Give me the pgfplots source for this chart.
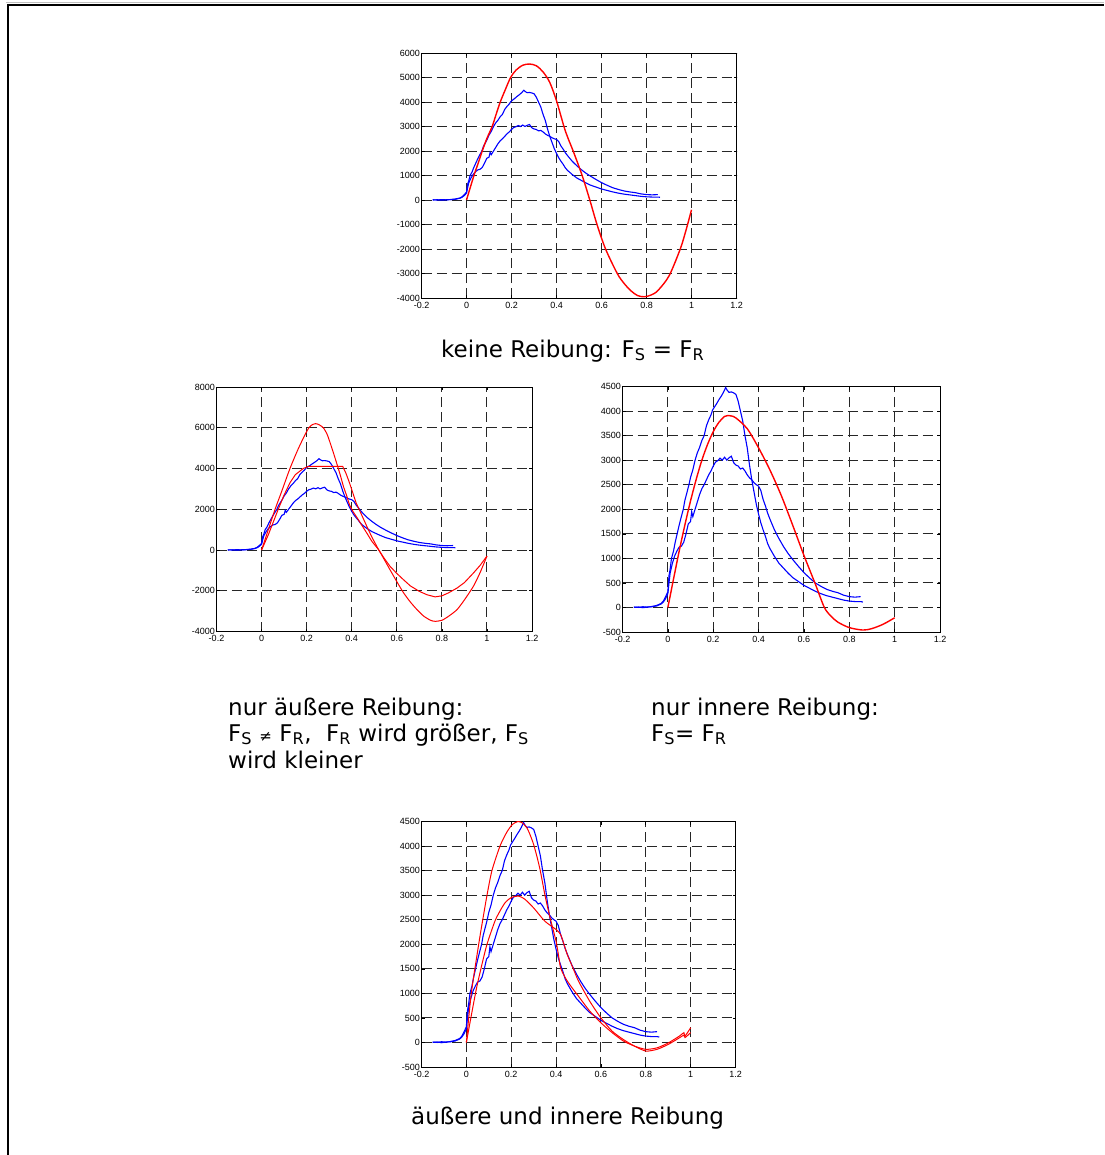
\documentclass[border=0pt]{standalone}
\usepackage{fontspec}
\setmainfont{DejaVu Sans}
\newfontfamily\tickfont{Liberation Sans}
\usepackage{pgfplots}
\pgfplotsset{compat=1.18}
\usepackage{pgfplotstable}

% measured curves (the same in all four panels)
\pgfplotstableread{
x y
-0.150 10
-0.130 0
-0.110 15
-0.090 5
-0.070 20
-0.050 40
-0.040 60
-0.030 80
-0.020 130
-0.010 220
0.000 320
0.005 650
0.010 780
0.016 1000
0.025 1150
0.032 1320
0.041 1500
0.050 1680
0.060 1860
0.068 2000
0.075 2180
0.083 2320
0.093 2500
0.100 2650
0.110 2800
0.120 3000
0.130 3150
0.140 3260
0.150 3400
0.160 3500
0.170 3700
0.180 3820
0.190 3920
0.197 4020
0.205 4080
0.215 4150
0.225 4230
0.235 4300
0.245 4380
0.255 4480
0.262 4420
0.270 4380
0.280 4390
0.290 4370
0.300 4340
0.310 4200
0.320 4000
0.330 3800
0.340 3500
0.350 3250
0.360 2900
0.370 2600
0.380 2350
0.390 2100
0.400 1900
0.410 1720
0.420 1580
0.430 1450
0.440 1300
0.450 1200
0.470 1040
0.490 900
0.510 800
0.530 700
0.550 610
0.575 530
0.600 450
0.625 390
0.650 330
0.675 280
0.700 240
0.725 210
0.750 180
0.775 150
0.800 130
0.825 120
0.850 120
0.860 110
}\blueA

\pgfplotstableread{
x y
-0.150 0
-0.130 10
-0.110 -5
-0.090 10
-0.070 15
-0.050 30
-0.040 50
-0.030 70
-0.020 110
-0.010 180
0.000 280
0.005 500
0.010 700
0.020 900
0.030 1050
0.040 1150
0.050 1230
0.060 1250
0.070 1330
0.080 1500
0.090 1700
0.100 1750
0.105 1950
0.110 1850
0.120 2000
0.130 2150
0.140 2300
0.150 2420
0.160 2500
0.170 2600
0.180 2700
0.190 2780
0.200 2880
0.210 2960
0.220 2990
0.230 3040
0.240 3000
0.250 3060
0.260 3000
0.270 3050
0.280 3080
0.290 2950
0.300 2900
0.310 2880
0.320 2820
0.330 2840
0.340 2780
0.350 2700
0.360 2640
0.370 2600
0.380 2540
0.390 2500
0.400 2470
0.410 2380
0.420 2200
0.430 2070
0.440 1920
0.450 1800
0.470 1580
0.490 1400
0.510 1240
0.530 1100
0.550 980
0.575 840
0.600 710
0.625 600
0.650 500
0.675 430
0.700 370
0.725 330
0.750 300
0.775 250
0.800 220
0.825 210
0.850 220
}\blueB

% model: no friction
\pgfplotstableread{
x y
0 0
0.033 1000
0.05 1450
0.07 2000
0.09 2500
0.114 3000
0.13 3450
0.15 4000
0.17 4450
0.196 5000
0.22 5300
0.25 5500
0.28 5550
0.31 5480
0.34 5230
0.37 4800
0.40 4050
0.433 3000
0.45 2550
0.474 2000
0.514 1000
0.548 0
0.58 -1000
0.618 -2000
0.67 -3000
0.70 -3400
0.73 -3700
0.76 -3900
0.79 -3950
0.82 -3880
0.85 -3700
0.90 -3100
0.95 -2000
0.975 -1250
1.0 -400
}\redI

% model: outer friction
\pgfplotstableread{
x y
0 0
0.03 1000
0.06 2000
0.09 2900
0.126 4000
0.16 4900
0.19 5600
0.21 6000
0.225 6150
0.24 6200
0.255 6150
0.274 6000
0.29 5700
0.30 5400
0.315 4900
0.333 4270
0.35 3650
0.363 3130
0.378 2650
0.39 2230
0.405 1900
0.42 1650
0.44 1300
0.467 830
0.49 420
0.52 0
0.545 -480
0.57 -970
0.60 -1550
0.63 -2100
0.66 -2550
0.69 -2930
0.72 -3250
0.75 -3450
0.77 -3500
0.80 -3450
0.83 -3250
0.867 -2930
0.90 -2450
0.94 -1780
0.97 -1100
1.0 -300
}\redIIa

\pgfplotstableread{
x y
0 0
0.03 750
0.074 2000
0.10 2700
0.126 3300
0.15 3700
0.185 4000
0.207 4100
0.25 4110
0.30 4110
0.36 4100
0.375 3750
0.39 3300
0.405 2800
0.42 2300
0.445 1700
0.467 1160
0.49 620
0.52 0
0.545 -420
0.57 -800
0.60 -1150
0.63 -1460
0.66 -1760
0.70 -2030
0.735 -2200
0.77 -2300
0.80 -2250
0.83 -2100
0.867 -1870
0.90 -1600
0.94 -1130
0.97 -750
1.0 -300
}\redIIb

% model: inner friction
\pgfplotstableread{
x y
0 0
0.025 580
0.05 1150
0.075 1680
0.1 2170
0.125 2610
0.15 3000
0.175 3320
0.2 3580
0.225 3770
0.25 3890
0.265 3910
0.28 3900
0.3 3860
0.35 3640
0.4 3250
0.45 2800
0.5 2280
0.55 1680
0.6 1060
0.65 480
0.69 0
0.72 -180
0.75 -300
0.8 -410
0.86 -460
0.9 -430
0.95 -340
1.0 -210
}\redIII

% model: outer and inner friction
\pgfplotstableread{
x y
0 0
0.022 1000
0.055 2000
0.075 2550
0.092 3000
0.114 3500
0.15 4000
0.18 4280
0.205 4440
0.23 4500
0.25 4470
0.27 4370
0.285 4220
0.30 4030
0.315 3780
0.33 3490
0.35 3010
0.37 2600
0.385 2330
0.40 2060
0.41 1800
0.42 1520
0.435 1370
0.45 1250
0.475 1090
0.50 940
0.55 640
0.60 400
0.65 200
0.70 30
0.75 -75
0.80 -140
0.85 -110
0.90 -10
0.95 130
0.97 200
0.975 130
1.0 300
}\redIVa

\pgfplotstableread{
x y
0 0
0.02 500
0.045 1100
0.07 1600
0.092 2000
0.13 2500
0.17 2830
0.2 2950
0.233 2980
0.26 2920
0.30 2740
0.35 2470
0.40 2300
0.42 2200
0.435 2000
0.45 1790
0.475 1520
0.50 1250
0.55 840
0.60 500
0.65 230
0.70 60
0.75 -75
0.80 -175
0.85 -140
0.90 -40
0.95 95
0.97 150
0.975 100
1.0 200
}\redIVb

\pgfplotsset{
  matlab/.style={
    scale only axis, anchor=south west,
    xmin=-0.2, xmax=1.2,
    xtick={-0.2,0,0.2,0.4,0.6,0.8,1,1.2},
    xticklabels={-0.2,0,0.2,0.4,0.6,0.8,1,1.2},
    scaled ticks=false,
    grid=major,
    major grid style={black!85, line width=1pt, dash pattern=on 10pt off 5pt},
    axis line style={black, line width=0.8pt},
    tick style={black, line width=0.6pt},
    tick align=inside, major tick length=3pt,
    ticklabel style={font=\tickfont\fontsize{9}{10}\selectfont, inner sep=1.5pt},
    xticklabel style={yshift=-2.5pt},
    every axis plot/.append style={no marks},
  },
  bl/.style={blue, line width=1.1pt},
  rd/.style={red, line width=1.4pt},
}

\begin{document}
\begin{tikzpicture}
\path[use as bounding box] (0pt,0pt) rectangle (1104pt,-1155pt);
\draw[black!25, line width=1pt] (6pt,-3pt) -- (1104pt,-3pt);
\draw[line width=2pt] (8pt,-1155pt) -- (8pt,-5pt) -- (1104pt,-5pt);

% keine Reibung
\begin{axis}[matlab, at={(421.5pt,-298pt)}, width=315pt, height=245pt,
  ymin=-4000, ymax=6000,
  ytick={-4000,-3000,-2000,-1000,0,1000,2000,3000,4000,5000,6000},
  yticklabels={-4000,-3000,-2000,-1000,0,1000,2000,3000,4000,5000,6000}]
\addplot[bl] table {\blueA};
\addplot[bl] table {\blueB};
\addplot[rd, smooth] table {\redI};
\end{axis}

% nur aeussere Reibung
\begin{axis}[matlab, at={(216.5pt,-631.5pt)}, width=315.5pt, height=244.5pt,
  ymin=-4000, ymax=8000,
  ytick={-4000,-2000,0,2000,4000,6000,8000},
  yticklabels={-4000,-2000,0,2000,4000,6000,8000}]
\addplot[bl] table {\blueA};
\addplot[bl] table {\blueB};
\addplot[rd, line width=1pt, smooth, tension=0.4] table {\redIIa};
\addplot[rd, line width=1pt] table {\redIIb};
\end{axis}

% nur innere Reibung
\begin{axis}[matlab, at={(622.5pt,-632pt)}, width=317.5pt, height=245.5pt,
  ymin=-500, ymax=4500,
  ytick={-500,0,500,1000,1500,2000,2500,3000,3500,4000,4500},
  yticklabels={-500,0,500,1000,1500,2000,2500,3000,3500,4000,4500}]
\addplot[bl] table {\blueA};
\addplot[bl] table {\blueB};
\addplot[rd, smooth] table {\redIII};
\end{axis}

% aeussere und innere Reibung
\begin{axis}[matlab, at={(421.5pt,-1067pt)}, width=314pt, height=245.5pt,
  ymin=-500, ymax=4500,
  ytick={-500,0,500,1000,1500,2000,2500,3000,3500,4000,4500},
  yticklabels={-500,0,500,1000,1500,2000,2500,3000,3500,4000,4500}]
\addplot[bl] table {\blueA};
\addplot[bl] table {\blueB};
\addplot[rd, line width=1pt, smooth, tension=0.4] table {\redIVa};
\addplot[rd, line width=1pt, smooth, tension=0.4] table {\redIVb};
\end{axis}

\begin{scope}[every node/.style={anchor=base west, inner sep=0pt, font=\fontsize{23}{26}\selectfont}]
\node at (441pt,-357pt) {keine Reibung: F\textsubscript{S} = F\textsubscript{R}};
\node at (228pt,-715pt) {nur äußere Reibung:};
\node at (228pt,-741pt) {F\textsubscript{S} {\fontsize{15}{18}\selectfont ≠} F\textsubscript{R},\ \ F\textsubscript{R} wird größer, F\textsubscript{S}};
\node at (228pt,-768pt) {wird kleiner};
\node at (651pt,-715pt) {nur innere Reibung:};
\node at (651pt,-741pt) {F\textsubscript{S}= F\textsubscript{R}};
\node at (411pt,-1124pt) {äußere und innere Reibung};
\end{scope}
\end{tikzpicture}
\end{document}
